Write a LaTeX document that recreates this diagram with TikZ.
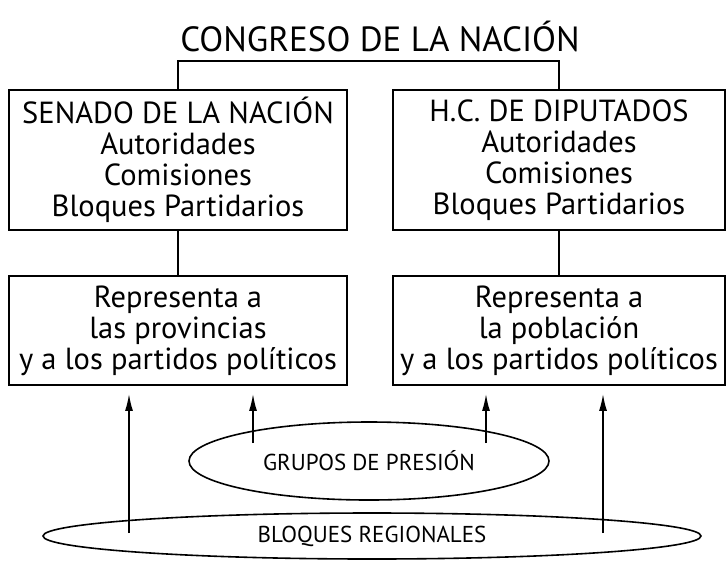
\documentclass[tikz,border=0pt]{standalone}
\usepackage{fontspec}
\setmainfont{PT Sans}
\usetikzlibrary{shapes.geometric,arrows.meta}

\begin{document}
\begin{tikzpicture}[x=1pt,y=-1pt,
    caja/.style={draw,line width=1.8pt,align=center,inner sep=0pt,font=\fontsize{30.5}{31}\selectfont},
    elipse/.style={draw,ellipse,line width=1.6pt,inner sep=0pt,font=\fontsize{23}{25}\selectfont},
    flecha/.style={line width=1.6pt,-{Latex[length=17pt,width=8pt]},shorten >=8pt}]
  \useasboundingbox (0,0) rectangle (727,560);
  \node[font=\fontsize{35}{36}\selectfont] (titulo) at (380,36) {CONGRESO DE LA NACIÓN};
  \coordinate (cima) at (368,61);
  \node[caja,minimum width=338,minimum height=140] (senado) at (178,160) {SENADO DE LA NACIÓN\\Autoridades\\Comisiones\\Bloques Partidarios};
  \node[caja,minimum width=332,minimum height=140] (diputados) at (559,160) {H.C. DE DIPUTADOS\\Autoridades\\Comisiones\\Bloques Partidarios};
  \node[caja,minimum width=338,minimum height=109] (repsenado) at (178,330.5) {Representa a\\las provincias\\y a los partidos políticos};
  \node[caja,minimum width=332,minimum height=109] (repdiputados) at (559,330.5) {Representa a\\la población\\y a los partidos políticos};
  \node[elipse,minimum width=360,minimum height=78] (grupos) at (369,461) {GRUPOS DE PRESIÓN};
  \node[elipse,minimum width=658,minimum height=46] (bloques) at (372,536) {BLOQUES REGIONALES};
  \draw[line width=1.8pt] (senado.north) |- (cima) -| (diputados.north);
  \draw[line width=1.8pt] (senado.south) -- (repsenado.north);
  \draw[line width=1.8pt] (diputados.south) -- (repdiputados.north);
  \coordinate (g1) at (253,443);
  \coordinate (g2) at (486,443);
  \coordinate (b1) at (129,533);
  \coordinate (b2) at (603,533);
  \draw[flecha] (b1) -- (b1 |- repsenado.south);
  \draw[flecha] (g1) -- (g1 |- repsenado.south);
  \draw[flecha] (g2) -- (g2 |- repdiputados.south);
  \draw[flecha] (b2) -- (b2 |- repdiputados.south);
\end{tikzpicture}
\end{document}
